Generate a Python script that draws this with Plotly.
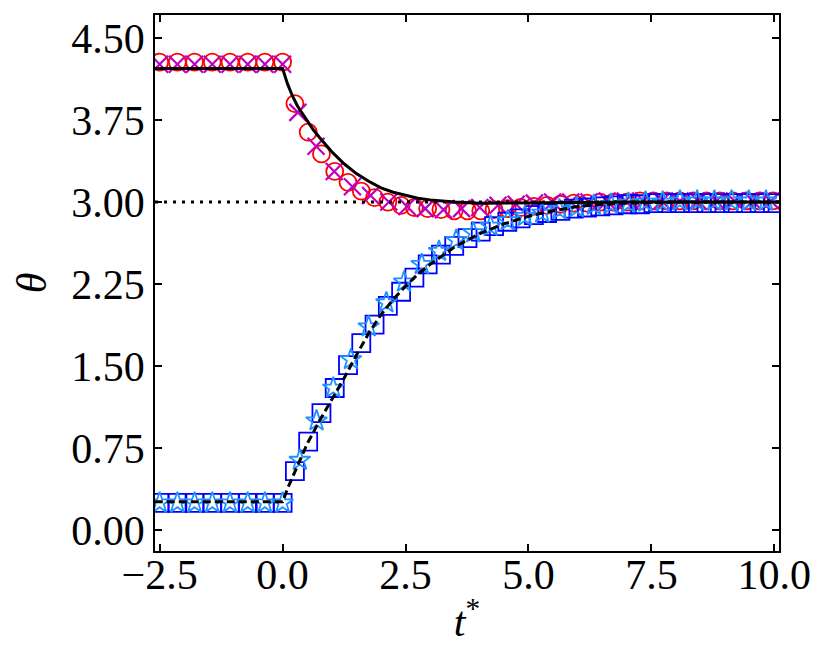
import plotly.graph_objects as go

# flat (pre-step) sample times, shared by all marker series
t_pre = [-2.5, -2.14, -1.79, -1.43, -1.07, -0.71, -0.36, 0.0]

# red circles
circ_t = t_pre + [0.25, 0.52, 0.79, 1.06, 1.33, 1.60, 1.87, 2.14, 2.41, 2.68,
                  2.95, 3.22, 3.49, 3.76, 4.03, 4.30, 4.57, 4.84, 5.11, 5.38,
                  5.65, 5.92, 6.19, 6.46, 6.73, 7.00, 7.27, 7.54, 7.81, 8.08,
                  8.35, 8.62, 8.89, 9.16, 9.43, 9.70, 9.97]
circ_theta = [4.28, 4.28, 4.28, 4.28, 4.28, 4.28, 4.28, 4.28,
              3.90, 3.64, 3.44, 3.28, 3.18, 3.10, 3.04, 3.00, 2.97, 2.95,
              2.94, 2.93, 2.92, 2.92, 2.92, 2.93, 2.94, 2.95, 2.96, 2.97,
              2.98, 2.99, 2.99, 3.00, 3.00, 3.00, 3.01, 3.01, 3.01, 3.01,
              3.01, 3.01, 3.01, 3.01, 3.01, 3.01, 3.01]

# purple crosses
cross_t = t_pre + [0.31, 0.68, 1.05, 1.42, 1.79, 2.16, 2.53, 2.90, 3.27, 3.64,
                   4.01, 4.38, 4.75, 5.12, 5.49, 5.86, 6.23, 6.60, 6.97, 7.34,
                   7.71, 8.08, 8.45, 8.82, 9.19, 9.56, 9.93]
cross_theta = [4.26, 4.26, 4.26, 4.26, 4.26, 4.26, 4.26, 4.26,
               3.82, 3.51, 3.28, 3.14, 3.06, 3.00, 2.96, 2.94, 2.93, 2.94,
               2.95, 2.97, 2.98, 2.99, 3.00, 3.00, 3.00, 3.01, 3.01, 3.01,
               3.01, 3.01, 3.01, 3.01, 3.01, 3.01, 3.01]

# blue squares
sq_t = circ_t
sq_theta = [0.25, 0.25, 0.25, 0.25, 0.25, 0.25, 0.25, 0.25,
            0.54, 0.81, 1.07, 1.30, 1.51, 1.71, 1.88, 2.05, 2.18, 2.31,
            2.43, 2.52, 2.60, 2.67, 2.73, 2.78, 2.82, 2.85, 2.88, 2.90,
            2.92, 2.94, 2.95, 2.96, 2.97, 2.98, 2.98, 2.99, 2.99, 2.99,
            2.99, 2.99, 2.99, 2.99, 2.99, 2.99, 2.99]

# light blue stars
star_t = t_pre + [0.35, 0.69, 1.03, 1.39, 1.75, 2.11, 2.47, 2.83, 3.18, 3.53,
                  3.88, 4.23, 4.58, 4.93, 5.28, 5.63, 5.98, 6.33, 6.68, 7.03,
                  7.38, 7.73, 8.08, 8.43, 8.78, 9.13, 9.48, 9.83]
star_theta = [0.25, 0.25, 0.25, 0.25, 0.25, 0.25, 0.25, 0.25,
              0.64, 1.00, 1.30, 1.56, 1.86, 2.08, 2.27, 2.43, 2.55, 2.65,
              2.72, 2.78, 2.83, 2.87, 2.90, 2.93, 2.95, 2.97, 2.98, 2.99,
              3.00, 3.00, 3.01, 3.01, 3.01, 3.01, 3.01, 3.01]

# black solid curve (cooling)
hot_t = [-2.6, 0.0, 0.05, 0.1, 0.2, 0.3, 0.4, 0.5, 0.625, 0.75, 0.875, 1.0,
         1.25, 1.5, 1.75, 2.0, 2.25, 2.5, 2.75, 3.0, 3.5, 4.0, 5.0, 6.0,
         7.0, 10.1]
hot_theta = [4.22, 4.22, 4.15, 4.08, 3.97, 3.88, 3.81, 3.74, 3.66, 3.59,
             3.52, 3.46, 3.35, 3.26, 3.19, 3.13, 3.09, 3.06, 3.035, 3.02,
             3.00, 2.99, 2.99, 2.995, 3.0, 3.0]

# black dashed curve (heating)
cold_t = [-2.6, 0.0, 0.1, 0.25, 0.5, 0.75, 1.0, 1.25, 1.5, 1.75, 2.0, 2.25,
          2.5, 2.75, 3.0, 3.5, 4.0, 4.5, 5.0, 5.5, 6.0, 6.5, 7.0, 8.0, 10.1]
cold_theta = [0.26, 0.26, 0.38, 0.53, 0.79, 1.00, 1.19, 1.39, 1.60, 1.80,
              1.97, 2.11, 2.23, 2.34, 2.43, 2.59, 2.71, 2.80, 2.87, 2.92,
              2.96, 2.98, 2.99, 3.0, 3.0]

ref_level = 3.0

x_ticks = [-2.5, 0.0, 2.5, 5.0, 7.5, 10.0]
y_ticks = [0.0, 0.75, 1.5, 2.25, 3.0, 3.75, 4.5]

font_name = "Liberation Serif"

fig = go.Figure()

fig.add_trace(go.Scatter(
    x=circ_t, y=circ_theta, mode="markers",
    marker=dict(symbol="circle-open", size=17, color="#ff0000",
                line=dict(width=1.8, color="#ff0000"))))
fig.add_trace(go.Scatter(
    x=cross_t, y=cross_theta, mode="markers",
    marker=dict(symbol="x-thin-open", size=17, color="#bf00bf",
                line=dict(width=2.2, color="#bf00bf"))))
fig.add_trace(go.Scatter(
    x=sq_t, y=sq_theta, mode="markers",
    marker=dict(symbol="square-open", size=18, color="#0000ff",
                line=dict(width=1.8, color="#0000ff"))))
fig.add_trace(go.Scatter(
    x=star_t, y=star_theta, mode="markers",
    marker=dict(symbol="star-open", size=16, color="#1e90ff",
                line=dict(width=1.8, color="#1e90ff"))))
fig.add_trace(go.Scatter(
    x=hot_t, y=hot_theta, mode="lines",
    line=dict(color="black", width=3)))
fig.add_trace(go.Scatter(
    x=cold_t, y=cold_theta, mode="lines",
    line=dict(color="black", width=3, dash="8px,4px")))

fig.add_shape(type="line", xref="paper", yref="y", x0=0, x1=1,
              y0=ref_level, y1=ref_level, layer="above",
              line=dict(color="black", width=3, dash="3px,6px"))

axis_common = dict(
    showline=True, linecolor="black", linewidth=1.6, mirror="ticks",
    ticks="inside", ticklen=7, tickwidth=1.6, tickcolor="black",
    showgrid=False, zeroline=False, automargin=False,
    tickfont=dict(family=font_name, size=42, color="black"),
)

fig.update_xaxes(range=[-2.595, 10.095], tickvals=x_ticks, tickformat=".1f",
                 ticklabelstandoff=-14,
                 title=dict(text="<i>t</i><sup>*</sup>", standoff=9,
                            font=dict(family=font_name, size=42, color="black")),
                 **axis_common)
fig.update_yaxes(range=[-0.19, 4.71], tickvals=y_ticks, tickformat=".2f",
                 title=dict(text="<i>θ</i>", standoff=12,
                            font=dict(family=font_name, size=42, color="black")),
                 **axis_common)

# page body adds an 8px offset, so the figure is drawn slightly smaller
fig.update_layout(
    width=815, height=653,
    margin=dict(l=147, r=44, t=7, b=110),
    paper_bgcolor="white", plot_bgcolor="white",
    showlegend=False,
)

fig.write_html("out.html")
